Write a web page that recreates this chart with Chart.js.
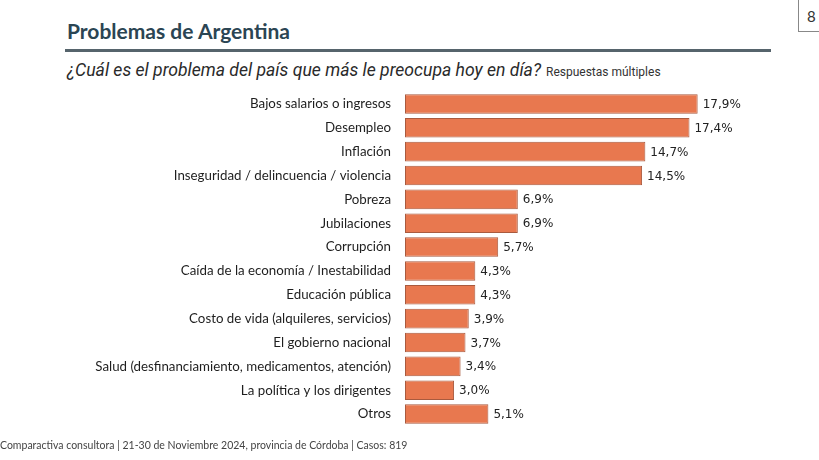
<!DOCTYPE html>
<html>
<head>
<meta charset="utf-8">
<script src="https://cdn.jsdelivr.net/npm/chart.js@4"></script>
<style>
  body { margin: 0; width: 819px; height: 460px; background: #fff; position: relative; overflow: hidden; font-family: Lato, sans-serif; }
  #titulo { position: absolute; left: 67px; top: 18px; font-size: 21px; font-weight: bold; color: #2b4553; font-family: Lato, sans-serif; }
  #linea { position: absolute; left: 65px; top: 49px; width: 706px; height: 3px; background: #56646c; }
  #pregunta { position: absolute; left: 67px; top: 60px; font-size: 17.6px; font-style: italic; color: #2a2a2a; font-family: "Roboto", sans-serif; }
  #pregunta span { font-style: normal; font-size: 12px; color: #333; margin-left: 5px; }
  #pagina { position: absolute; left: 798px; top: -2px; width: 30px; height: 34px; border: 1px solid #888; font-size: 15px; color: #333; padding-left: 8px; line-height: 34px; box-sizing: border-box; }
  #pie { position: absolute; left: 0px; top: 439px; font-size: 10.5px; color: #444; font-family: Lato, sans-serif; }
  #grafico { position: absolute; left: 0; top: 0; }
</style>
</head>
<body>
<div id="titulo">Problemas de Argentina</div>
<div id="linea"></div>
<div id="pregunta">¿Cuál es el problema del país que más le preocupa hoy en día?<span>Respuestas múltiples</span></div>
<div id="pagina">8</div>
<div id="grafico"><canvas id="barChart" width="819" height="460"></canvas></div>
<div id="pie">Comparactiva consultora | 21-30 de Noviembre 2024, provincia de Córdoba | Casos: 819</div>
<script>
const problemas = [
  'Bajos salarios o ingresos',
  'Desempleo',
  'Inflación',
  'Inseguridad / delincuencia / violencia',
  'Pobreza',
  'Jubilaciones',
  'Corrupción',
  'Caída de la economía / Inestabilidad',
  'Educación pública',
  'Costo de vida (alquileres, servicios)',
  'El gobierno nacional',
  'Salud (desfinanciamiento, medicamentos, atención)',
  'La política y los dirigentes',
  'Otros'
];
const porcentajes = [17.9, 17.4, 14.7, 14.5, 6.9, 6.9, 5.7, 4.3, 4.3, 3.9, 3.7, 3.4, 3.0, 5.1];

// etiquetas de valor al final de cada barra
const etiquetas = {
  id: 'etiquetas',
  afterDatasetsDraw(chart) {
    const ctx = chart.ctx;
    const meta = chart.getDatasetMeta(0);
    ctx.save();
    ctx.font = '12px "DejaVu Sans", sans-serif';
    ctx.fillStyle = '#222';
    ctx.textAlign = 'left';
    ctx.textBaseline = 'middle';
    meta.data.forEach((bar, i) => {
      const txt = porcentajes[i].toFixed(1).replace('.', ',') + '%';
      ctx.fillText(txt, bar.x + 5, bar.y + 1);
    });
    ctx.restore();
  }
};

const barChartCtx = document.getElementById('barChart').getContext('2d');
new Chart(barChartCtx, {
  type: 'bar',
  data: {
    labels: problemas,
    datasets: [{
      label: 'Problemas',
      data: porcentajes,
      backgroundColor: '#e8784f',
      borderColor: '#a95a3e',
      borderWidth: 1,
      borderSkipped: false,
      barPercentage: 0.82,
      categoryPercentage: 1
    }]
  },
  options: {
    responsive: false,
    animation: false,
    indexAxis: 'y',
    layout: { padding: { left: 0, top: 92, bottom: 34, right: 87 } },
    plugins: { legend: { display: false }, tooltip: { enabled: false } },
    scales: {
      x: { display: false, min: 0, max: 20 },
      y: {
        grid: { display: false },
        border: { display: false },
        ticks: { color: '#1e1e1e', padding: 6, font: { family: 'Lato', size: 13.3 } },
        afterFit(s) { s.width = 405; }
      }
    }
  },
  plugins: [etiquetas]
});
</script>
</body>
</html>
